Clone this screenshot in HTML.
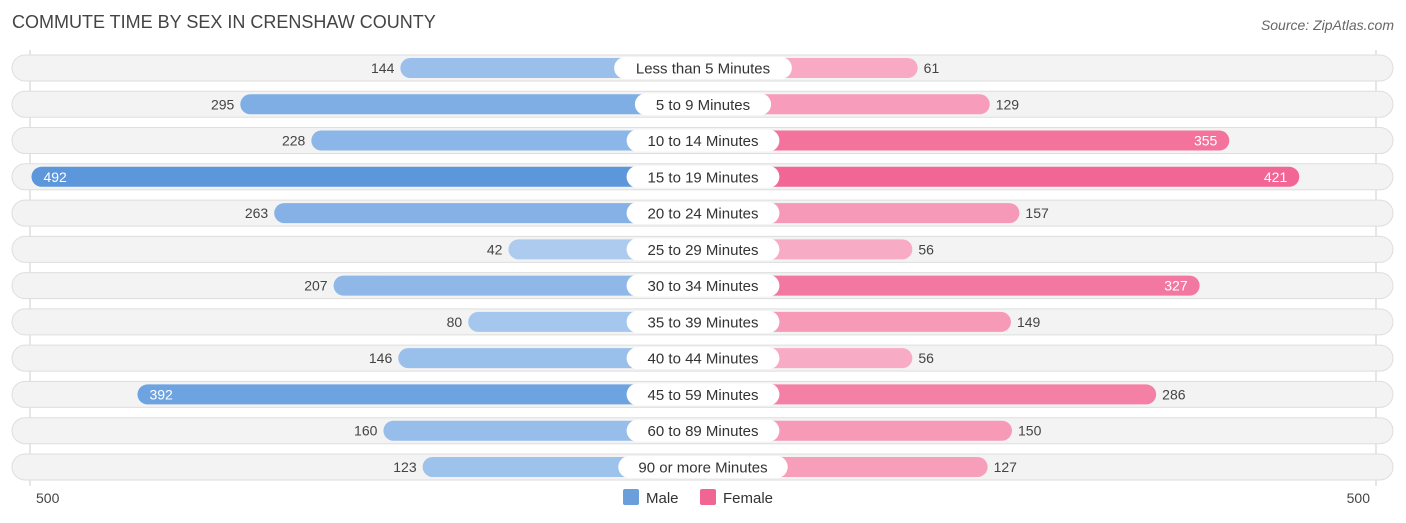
<!DOCTYPE html>
<html><head><meta charset="utf-8"><style>
body{margin:0;background:#fff;font-family:"Liberation Sans",sans-serif;}
svg{display:block}
</style></head><body>
<svg id="chart" width="1406" height="523">
<text x="12" y="28" font-size="18" fill="#444">COMMUTE TIME BY SEX IN CRENSHAW COUNTY</text>
<text x="1394" y="30" font-size="14" fill="#666" font-style="italic" text-anchor="end">Source: ZipAtlas.com</text>
<line x1="30" y1="50" x2="30" y2="486" stroke="#ccc"/>
<line x1="1376" y1="50" x2="1376" y2="486" stroke="#ccc"/>
<g id="rows"></g>
<text x="36" y="503" font-size="14" fill="#444">500</text>
<text x="1370" y="503" font-size="14" fill="#444" text-anchor="end">500</text>
<rect x="623" y="489" width="16" height="16" rx="2" fill="#6a9fdc"/>
<text x="646" y="503" font-size="15" fill="#333">Male</text>
<rect x="700" y="489" width="16" height="16" rx="2" fill="#f06591"/>
<text x="723" y="503" font-size="15" fill="#333">Female</text>
</svg>
<script>
const categories=["Less than 5 Minutes","5 to 9 Minutes","10 to 14 Minutes","15 to 19 Minutes","20 to 24 Minutes","25 to 29 Minutes","30 to 34 Minutes","35 to 39 Minutes","40 to 44 Minutes","45 to 59 Minutes","60 to 89 Minutes","90 or more Minutes"];
const maleValues=[144,295,228,492,263,42,207,80,146,392,160,123];
const femaleValues=[61,129,355,421,157,56,327,149,56,286,150,127];
const NS="http://www.w3.org/2000/svg";
const cx=703, off=150, k=1.06, y0=68, step=36.27;
function xMale(v){return cx-off-k*v;}
function xFemale(v){return cx+off+k*v;}
function yRow(i){return y0+i*step;}
function mix(a,b,t){const p=s=>[1,3,5].map(j=>parseInt(s.substr(j,2),16));const A=p(a),B=p(b);return "rgb("+A.map((x,i)=>Math.round(x+(B[i]-x)*t)).join(",")+")";}
function el(tag,attrs,parent){const e=document.createElementNS(NS,tag);for(const a in attrs)e.setAttribute(a,attrs[a]);parent.appendChild(e);return e;}
const g=document.getElementById("rows");
categories.forEach((c,i)=>{
  const y=yRow(i);
  const bg=el("rect",{x:12,y:y-13,width:1381,height:26,rx:13,fill:"#f3f3f3",stroke:"#dedede"},g);
  
  
  const m=maleValues[i], f=femaleValues[i];
  const xm=xMale(m);
  const mb=el("rect",{x:xm,y:y-10,width:cx-xm,height:20,rx:10,fill:mix("#b3d0f1","#5b96dc",m/500)},g);
  
  
  const xf=xFemale(f);
  const fb=el("rect",{x:cx,y:y-10,width:xf-cx,height:20,rx:10,fill:mix("#f9b6cc","#f0578a",f/500)},g);
  
  
  const mIn=m>300, fIn=f>300;
  const mt=el("text",{x:mIn?xm+12:xm-6,y:y+5,"font-size":14,fill:mIn?"#fff":"#444","text-anchor":mIn?"start":"end"},g);
  mt.textContent=m;
  
  
  const ft=el("text",{x:fIn?xf-12:xf+6,y:y+5,"font-size":14,fill:fIn?"#fff":"#444","text-anchor":fIn?"end":"start"},g);
  ft.textContent=f;
  
  
  const w=c.length*8.3+20;
  const lb=el("rect",{x:cx-w/2,y:y-11,width:w,height:22,rx:11,fill:"#fff"},g);
  
  
  const lt=el("text",{x:cx,y:y+5.5,"font-size":15,fill:"#333","text-anchor":"middle"},g);
  lt.textContent=c;
  
  
});
</script>
</body></html>
